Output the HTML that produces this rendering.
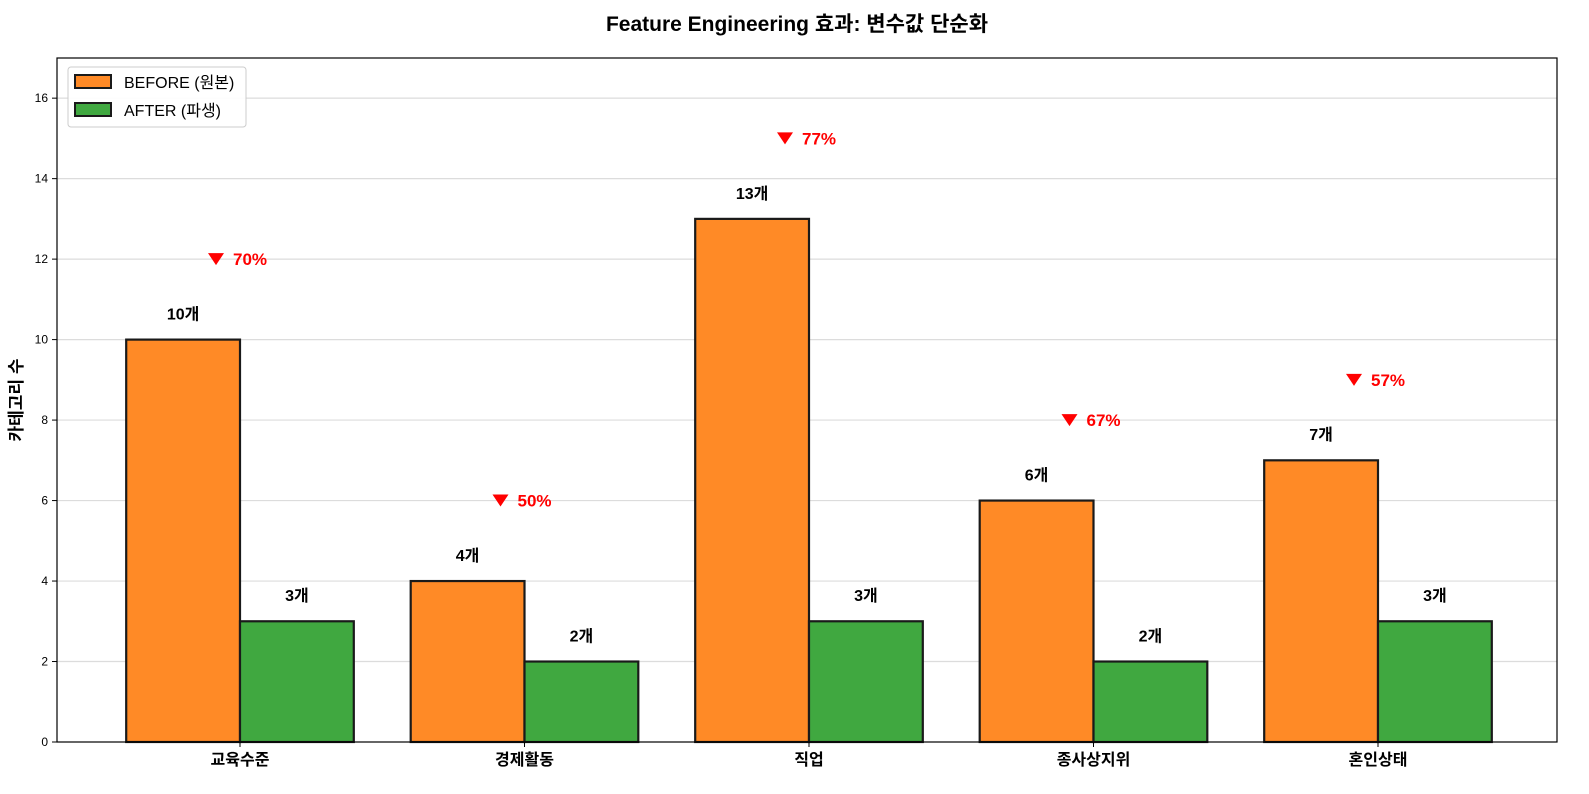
<!DOCTYPE html>
<html><head><meta charset="utf-8"><style>
body{margin:0;background:#fff;font-family:"Liberation Sans","Noto Sans CJK KR",sans-serif;}
svg text{font-family:"Liberation Sans","Noto Sans CJK KR",sans-serif;}
</style></head><body>
<svg id="chart" width="1589" height="789" xmlns="http://www.w3.org/2000/svg">
<text x="797" y="31" text-anchor="middle" font-size="21" font-weight="bold">Feature Engineering 효과: 변수값 단순화</text>
<g id="grid"></g>
<g id="bars"></g>
<g id="labels"></g>
<rect x="57" y="58" width="1500" height="684" fill="none" stroke="#000" stroke-width="1.2"/>
<g id="axes"></g>
<text transform="translate(22,400) rotate(-90)" text-anchor="middle" font-size="17" font-weight="bold">카테고리 수</text>
<g>
<rect x="68" y="67" width="178" height="60" rx="3" fill="#fff" fill-opacity="0.9" stroke="#ccc"/>
<rect x="75" y="75" width="36" height="13" fill="#ff8a26" stroke="#1a1a1a" stroke-width="2"/>
<text x="124" y="88" font-size="16">BEFORE (원본)</text>
<rect x="75" y="103" width="36" height="13" fill="#40a840" stroke="#1a1a1a" stroke-width="2"/>
<text x="124" y="116" font-size="16">AFTER (파생)</text>
</g>
</svg>
<script>
const categories=["교육수준","경제활동","직업","종사상지위","혼인상태"];
const beforeVals=[10,4,13,6,7];
const afterVals=[3,2,3,2,3];
const yTicks=[0,2,4,6,8,10,12,14,16];
const NS="http://www.w3.org/2000/svg";
const y=v=>742-v*40.24;
const x=i=>240+i*284.5;
const bw=113.8;
function mk(tag,attrs,parent,txt){const e=document.createElementNS(NS,tag);for(const k in attrs)e.setAttribute(k,attrs[k]);if(txt!==undefined)e.textContent=txt;document.getElementById(parent).appendChild(e);return e;}
yTicks.forEach(t=>{
 if(t>0){const g=mk('line',{x1:57,x2:1557,y1:y(t),y2:y(t),stroke:'#dcdcdc','stroke-width':1.2},'grid');
 
 }
 const tk=mk('line',{x1:52,x2:57,y1:y(t),y2:y(t),stroke:'#000'},'axes');
 
 
 const l=mk('text',{x:48,y:y(t)+4,'text-anchor':'end','font-size':12},'axes',t);
 
 
});
categories.forEach((c,i)=>{
 const cx=x(i),b=beforeVals[i],a=afterVals[i];
 const rb=mk('rect',{x:cx-bw,y:y(b),width:bw,height:y(0)-y(b),fill:'#ff8a26',stroke:'#1a1a1a','stroke-width':2.2},'bars');
 
 
 const ra=mk('rect',{x:cx,y:y(a),width:bw,height:y(0)-y(a),fill:'#40a840',stroke:'#1a1a1a','stroke-width':2.2},'bars');
 
 
 const lb=mk('text',{x:cx-bw/2,y:y(b+0.5),'text-anchor':'middle','font-size':16,'font-weight':'bold'},'labels',b+'개');
 
 
 const la=mk('text',{x:cx+bw/2,y:y(a+0.5),'text-anchor':'middle','font-size':16,'font-weight':'bold'},'labels',a+'개');
 
 
 const pct=Math.round((b-a)/b*100);
 const ay=y(b+2);
 const tri=mk('path',{d:`M${cx-32},${ay-6} L${cx-16},${ay-6} L${cx-24},${ay+6} Z`,fill:'#ff0000'},'labels');
 
 
 const pt=mk('text',{x:cx-7,y:ay+6,'font-size':17,'font-weight':'bold',fill:'#ff0000'},'labels',pct+'%');
 
 
 const xt=mk('line',{x1:cx,x2:cx,y1:742,y2:747,stroke:'#000'},'axes');
 
 
 const xl=mk('text',{x:cx,y:765,'text-anchor':'middle','font-size':16,'font-weight':'bold'},'axes',c);
 
 
});
</script>
</body></html>
